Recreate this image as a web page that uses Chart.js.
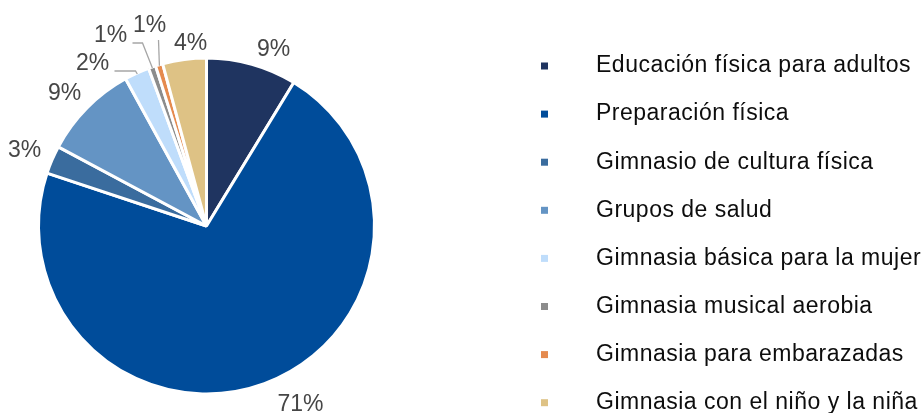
<!DOCTYPE html>
<html>
<head>
<meta charset="utf-8">
<script src="https://cdn.jsdelivr.net/npm/chart.js@4.4.1/dist/chart.umd.min.js"></script>
<style>
    html, body { margin: 0; padding: 0; background: #fff; }
    #wrap { width: 922px; height: 413px; position: relative; }
</style>
</head>
<body>
<div id="wrap"><canvas id="myChart" width="922" height="413"></canvas></div>
<script>
const labels = [
    'Educación física para adultos',
    'Preparación física',
    'Gimnasio de cultura física',
    'Grupos de salud',
    'Gimnasia básica para la mujer',
    'Gimnasia musical aerobia',
    'Gimnasia para embarazadas',
    'Gimnasia con el niño y la niña',
];

// share of participants, %
const values = [8.7, 71.4, 2.7, 9.2, 2.4, 0.7, 0.7, 4.2];

const colors = [
    'rgb(31, 52, 96)',
    'rgb(0, 76, 154)',
    'rgb(58, 108, 158)',
    'rgb(100, 148, 196)',
    'rgb(191, 221, 251)',
    'rgb(140, 140, 140)',
    'rgb(229, 138, 78)',
    'rgb(222, 194, 133)',
];

// label offsets from the pie centre; lead = leader line points
const labelPlace = [
    { dx: 67, dy: -177 },
    { dx: 94, dy: 178 },
    { dx: -182, dy: -76 },
    { dx: -142, dy: -133 },
    { dx: -114, dy: -163, lead: [[-92, -155], [-71, -155]] },
    { dx: -96, dy: -191, lead: [[-74, -183], [-64, -183]] },
    { dx: -57, dy: -201, lead: [[-48, -186]] },
    { dx: -16, dy: -183 },
];

const pieLabels = {
    id: 'pieLabels',
    afterDatasetsDraw(chart) {
        const ctx = chart.ctx;
        const arcs = chart.getDatasetMeta(0).data;
        const total = values.reduce((a, b) => a + b, 0);
        ctx.save();
        ctx.font = '23px "Liberation Sans", Arial, sans-serif';
        ctx.textAlign = 'center';
        ctx.textBaseline = 'middle';
        arcs.forEach((arc, i) => {
            const p = labelPlace[i];
            const cx = arc.x, cy = arc.y;
            if (p.lead) {
                const mid = (arc.startAngle + arc.endAngle) / 2;
                const r = arc.outerRadius - 1;
                ctx.strokeStyle = 'rgb(166, 166, 166)';
                ctx.lineWidth = 1.3;
                ctx.beginPath();
                ctx.moveTo(cx + p.lead[0][0], cy + p.lead[0][1]);
                for (let k = 1; k < p.lead.length; k++) {
                    ctx.lineTo(cx + p.lead[k][0], cy + p.lead[k][1]);
                }
                ctx.lineTo(cx + Math.cos(mid) * r, cy + Math.sin(mid) * r);
                ctx.stroke();
            }
            ctx.fillStyle = 'rgb(70, 70, 70)';
            ctx.fillText(Math.round(values[i] / total * 100) + '%', cx + p.dx, cy + p.dy + 1);
        });
        ctx.restore();
    }
};

const sideLegend = {
    id: 'sideLegend',
    afterDraw(chart) {
        const ctx = chart.ctx;
        ctx.save();
        ctx.font = '23px "Liberation Sans", Arial, sans-serif';
        ctx.letterSpacing = '0.5px';
        ctx.textBaseline = 'middle';
        ctx.textAlign = 'left';
        labels.forEach((name, i) => {
            const y = 66 + i * 48.1;
            ctx.fillStyle = colors[i];
            ctx.fillRect(541, y - 3.5, 7, 7);
            ctx.fillStyle = 'rgb(13, 13, 13)';
            ctx.fillText(name, 596, y);
        });
        ctx.restore();
    }
};

const data = {
    labels: labels,
    datasets: [{
        data: values,
        backgroundColor: colors,
        borderColor: '#fff',
        borderWidth: 3,
    }]
};

const config = {
    type: 'pie',
    data: data,
    options: {
        responsive: false,
        animation: false,
        layout: {
            padding: { left: 37, right: 546, top: 56, bottom: 17 }
        },
        plugins: {
            legend: { display: false },
            tooltip: { enabled: false }
        }
    },
    plugins: [pieLabels, sideLegend]
};

let myChart = new Chart(
    document.getElementById('myChart'),
    config
);
</script>
</body>
</html>
